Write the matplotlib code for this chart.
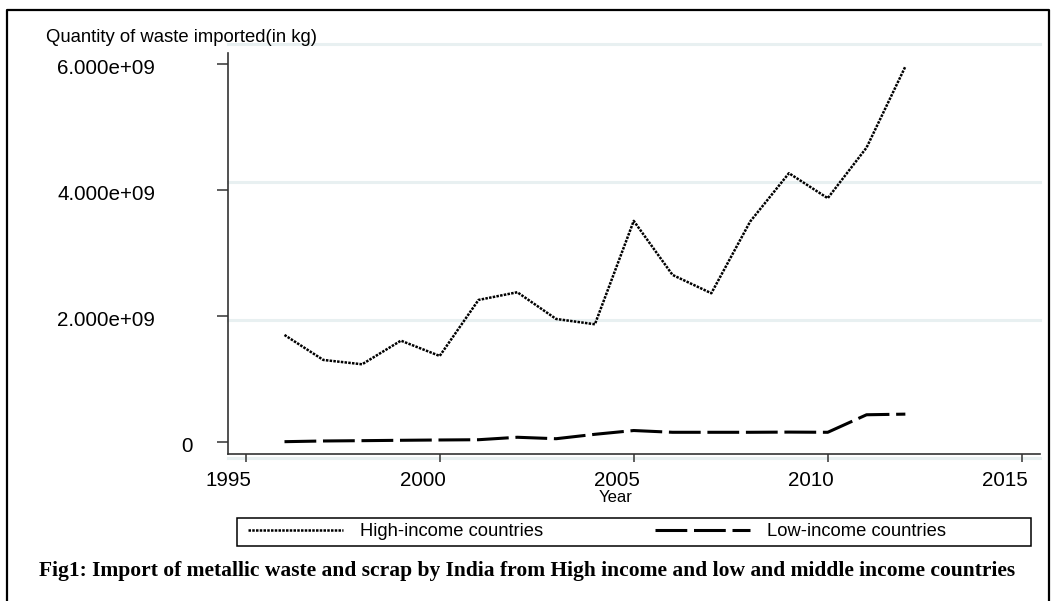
import numpy as np
import matplotlib.pyplot as plt
from matplotlib.lines import Line2D
from matplotlib.patches import Rectangle
from matplotlib.transforms import ScaledTranslation

plt.rcParams['font.family'] = ['Liberation Sans', 'DejaVu Sans']

# annual imports of metallic waste and scrap (kg)
YEARS = np.arange(1996, 2013)
HIGH = np.array([1.706, 1.310, 1.241, 1.616, 1.373, 2.262, 2.384, 1.960, 1.876,
                 3.516, 2.659, 2.368, 3.505, 4.273, 3.876, 4.679, 5.965]) * 1e9
LOW = np.array([0.013, 0.024, 0.029, 0.035, 0.040, 0.044, 0.083, 0.060, 0.130,
                0.190, 0.162, 0.162, 0.162, 0.165, 0.162, 0.440, 0.450]) * 1e9

XTICKS = [1995, 2000, 2005, 2010, 2015]
YTICKS = [0, 2e9, 4e9, 6e9]
YTICKLABELS = ['0', '2.000e+09', '4.000e+09', '6.000e+09']
LABELS = ['High-income countries', 'Low-income countries']
YTITLE = 'Quantity of waste imported(in kg)'
XTITLE = 'Year'
CAPTION = ('Fig1: Import of metallic waste and scrap by India from High income '
           'and low and middle income countries')

W, H = 1053, 601
fig = plt.figure(figsize=(W / 100, H / 100), dpi=100)
fig.patch.set_facecolor('white')


def fx(x):
    return x / W


def fy(y):
    return 1 - y / H


ax = fig.add_axes([fx(228), fy(454), fx(1040) - fx(228), fy(53) - fy(454)])
ax.set_xlim(1994.544, 2015.47)
ax.set_ylim(-0.1825e9, 6.18e9)

# pale horizontal grid (drawn slightly off the tick grid, as in the original)
for gv in np.arange(4) * 2.19e9 - 0.246e9:
    ax.axhline(gv, color='#e8f0f1', lw=2.2, zorder=0, clip_on=False)

l1, = ax.plot(YEARS, HIGH, color='black', lw=1.8, linestyle=(0, (1, 0.5)),
              label=LABELS[0])
l2, = ax.plot(YEARS, LOW, color='black', lw=2.2, linestyle=(0, (10.4, 2.2)),
              label=LABELS[1])

for s in ['top', 'right']:
    ax.spines[s].set_visible(False)
for s in ['left', 'bottom']:
    ax.spines[s].set_color('#333333')
    ax.spines[s].set_linewidth(1.2)

ax.set_xticks(XTICKS)
ax.set_yticks(YTICKS)
ax.set_yticklabels(YTICKLABELS)
ax.tick_params(axis='x', length=5.5, width=1.1, color='#333333',
               labelsize=14.8, pad=6.5)
ax.tick_params(axis='y', length=7.9, width=1.1, color='#333333',
               labelsize=14.8, pad=44.6)

# tick labels sit a little left of / below their ticks
xoff = ScaledTranslation(-17 / 100, 0, fig.dpi_scale_trans)
for lab in ax.get_xticklabels():
    lab.set_transform(lab.get_transform() + xoff)
for lab in ax.get_yticklabels():
    dx = 38 if lab.get_text() == '0' else 0
    lab.set_transform(lab.get_transform() +
                      ScaledTranslation(dx / 100, -2.5 / 100, fig.dpi_scale_trans))

fig.text(fx(46), fy(38), YTITLE, ha='left', va='center', fontsize=13.3)
fig.text(fx(616), fy(498), XTITLE, ha='center', va='center', fontsize=12)

# legend box and entries
fig.patches.append(Rectangle((fx(237), fy(546)), fx(1031) - fx(237), fy(518) - fy(546),
                             transform=fig.transFigure, fill=False,
                             ec='black', lw=1.1))
fig.legend([l1, l2], LABELS, ncol=2, loc='center left',
           bbox_to_anchor=(fx(248), fy(532)), frameon=False, fontsize=13.2,
           handlelength=5.2, handletextpad=0.92, columnspacing=6.1,
           borderpad=0, borderaxespad=0)

fig.text(fx(527), fy(576), CAPTION, ha='center', va='baseline',
         fontsize=15.5, fontweight='bold', family=['Liberation Serif', 'DejaVu Serif'])

# outer frame
fig.add_artist(Line2D([fx(7), fx(7), fx(1049), fx(1049)],
                      [fy(601), fy(10), fy(10), fy(601)],
                      transform=fig.transFigure, color='black', lw=1.6))

fig.savefig('out.png', dpi=100)
